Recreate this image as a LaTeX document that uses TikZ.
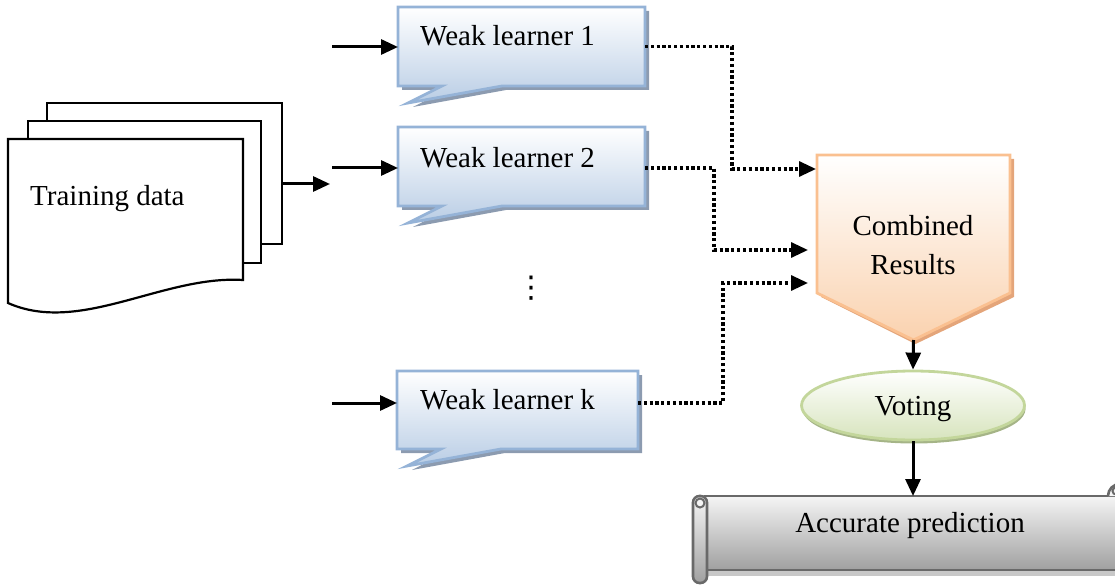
\documentclass[tikz,border=0pt]{standalone}
\usepackage{fontspec}
\setmainfont{Liberation Serif}
\newfontfamily\symfont{DejaVu Sans}
\usetikzlibrary{arrows.meta,shapes.geometric,calc}

\definecolor{lborder}{RGB}{149,179,215}
\definecolor{lfill}{RGB}{185,205,229}
\definecolor{lshade}{RGB}{140,155,176}
\definecolor{oborder}{RGB}{250,192,144}
\definecolor{ofill}{RGB}{250,210,175}
\definecolor{oshade}{RGB}{228,165,122}
\definecolor{gborder}{RGB}{195,214,155}
\definecolor{gfill}{RGB}{215,228,189}
\definecolor{gshade}{RGB}{165,180,135}
\definecolor{sborder}{RGB}{105,105,105}
\definecolor{sfilltop}{RGB}{245,245,245}
\definecolor{sfillbot}{RGB}{160,160,160}
\definecolor{sshade}{RGB}{200,200,200}

% callout box for a weak learner, drawn from the anchors of its node
\newcommand\learnershape[1]{%
  \fill[lshade] ($(#1.north west)+(4,4)$) -- ($(#1.north east)+(4,4)$)
    -- ($(#1.south east)+(4,4)$) -- ($(#1.south west)+(108,4)$)
    -- ($(#1.south west)+(15,21)$) -- ($(#1.south west)+(48,4)$)
    -- ($(#1.south west)+(4,4)$) -- cycle;
  \path[top color=white, bottom color=lfill, draw=lborder, line width=2.8pt, line join=miter]
    (#1.north west) -- (#1.north east) -- (#1.south east)
    -- ($(#1.south west)+(104,0)$) -- ($(#1.south west)+(10,17)$)
    -- ($(#1.south west)+(44,0)$) -- (#1.south west) -- cycle;}

\begin{document}
\begin{tikzpicture}[x=1pt, y=-1pt,
  font=\fontsize{29}{39}\selectfont,
  frame/.style={draw=none, inner sep=0pt, outer sep=0pt},
  sheet/.style={draw=black, fill=white, line width=2.2pt},
  arr/.style={line width=3pt, -{Triangle[length=17pt,width=15pt]}},
  dotarr/.style={line width=3.2pt, dash pattern=on 3.2pt off 2.6pt,
                 -{Triangle[length=17pt,width=15pt]}},
  label/.style={inner sep=0pt, anchor=base west}]

\useasboundingbox (0,0) rectangle (1115,585);

% ---- stack of training documents ----
\node[frame, minimum width=235pt, minimum height=141pt] (td3) at (164.5,173.5) {};
\node[frame, minimum width=233pt, minimum height=142pt] (td2) at (144.5,192) {};
\node[frame, minimum width=235pt, minimum height=164pt] (td) at (125.5,221) {};
\draw[sheet] (td3.north west) rectangle (td3.south east);
\draw[sheet] (td2.north west) rectangle (td2.south east);
\draw[sheet] (td.south west) -- (td.north west) -- (td.north east)
  -- ($(td.north east)+(0,141)$)
  .. controls ($(td.north east)+(-80,136)$) and ($(td.north west)+(72,196)$)
  .. cycle;
\node[label] (tdt) at ($(td.north west)+(22,67)$) {Training data};

\coordinate (split) at (330,184);
\draw[arr] (td3.east |- split) -- (split);

% ---- weak learners ----
\node[frame, minimum width=247pt, minimum height=79pt] (w1) at (521.5,46.5) {};
\node[frame, minimum width=247pt, minimum height=79pt] (w2) at (521.5,166.5) {};
\node[frame, minimum width=241pt, minimum height=78pt] (wk) at (517.5,410) {};
\learnershape{w1}
\learnershape{w2}
\learnershape{wk}
\node[label] (w1t) at ($(w1.north west)+(22,39)$) {Weak learner 1};
\node[label] (w2t) at ($(w2.north west)+(22,41)$) {Weak learner 2};
\node[label] (wkt) at ($(wk.north west)+(23,38)$) {Weak learner k};

\node[inner sep=0pt, font=\symfont\fontsize{30}{30}\selectfont] (dots) at (531,288) {⋮};

\coordinate (in1) at (332,47);
\coordinate (in2) at (332,168);
\coordinate (ink) at (332,403);
\draw[arr] (in1) -- (in1 -| w1.west);
\draw[arr] (in2) -- (in2 -| w2.west);
\draw[arr] (ink) -- (ink -| wk.west);

% ---- combined results (pentagon pointing down) ----
\node[frame, minimum width=193pt, minimum height=185pt] (comb) at (913.5,247.5) {};
\fill[oshade] ($(comb.north west)+(4,4)$) -- ($(comb.north east)+(4,4)$)
  -- ($(comb.north east)+(4,142)$) -- ($(comb.south)+(2,4)$)
  -- ($(comb.north west)+(4,142)$) -- cycle;
\path[top color=white, bottom color=ofill, draw=oborder, line width=2.8pt]
  (comb.north west) -- (comb.north east) -- ($(comb.north east)+(0,138)$)
  -- (comb.south) -- ($(comb.north west)+(0,138)$) -- cycle;
\node[align=center, inner sep=0pt] (combt) at (913,245) {Combined\\Results};

\coordinate (c1) at ($(comb.north west)+(-1,14)$);
\coordinate (c2) at ($(comb.north west)+(-9,95)$);
\coordinate (c3) at ($(comb.north west)+(-9,128)$);
\draw[dotarr] (w1.east) -| ($(c1)+(-84,0)$) -- (c1);
\draw[dotarr] ($(w2.east)+(0,1.5)$) -| ($(c2)+(-94,0)$) -- (c2);
\draw[dotarr] ($(wk.east)+(0,-7)$) -| ($(c3)+(-85,0)$) -- (c3);

% ---- voting ----
\fill[gshade] (914,409) ellipse [x radius=111.5pt, y radius=34.5pt];
\node[ellipse, inner sep=0pt, minimum width=223pt, minimum height=69pt,
      top color=white, bottom color=gfill, draw=gborder, line width=2.8pt]
      (vote) at (913,405.5) {};
\node[inner sep=0pt, anchor=base] (votet) at (913,415) {Voting};
\draw[arr] (comb.south) -- (vote.north);

% ---- accurate prediction (scroll, its right roll runs past the edge) ----
\node[frame, minimum width=430pt, minimum height=74pt] (pred) at (920,533) {};
\fill[sshade] ($(pred.south west)+(2,0)$) rectangle ($(pred.south east)+(0,6)$);
\path[top color=sfilltop, bottom color=sfillbot, draw=sborder, line width=2.6pt]
  (pred.north west) rectangle (pred.south east);
% left roll
\path[top color=sfilltop, bottom color=sfillbot, draw=sborder, line width=2.6pt,
      rounded corners=6.5pt]
  ($(pred.north west)+(-12,0)$) rectangle ($(pred.south west)+(2,13)$);
\draw[sborder, line width=2pt, fill=sfilltop] ($(pred.north west)+(-5,7)$) circle [radius=4.5pt];
% curl of the right roll
\draw[sborder, line width=2.6pt, fill=sfilltop]
  (1108,496) arc [start angle=180, end angle=0, radius=12pt];
\draw[sborder, line width=2pt, fill=sfilltop] (1116,491) circle [radius=3.5pt];
\node[inner sep=0pt, anchor=base] (predt) at (910,532) {Accurate prediction};
\draw[arr] (vote.south) -- (vote.south |- pred.north);

\end{tikzpicture}
\end{document}
